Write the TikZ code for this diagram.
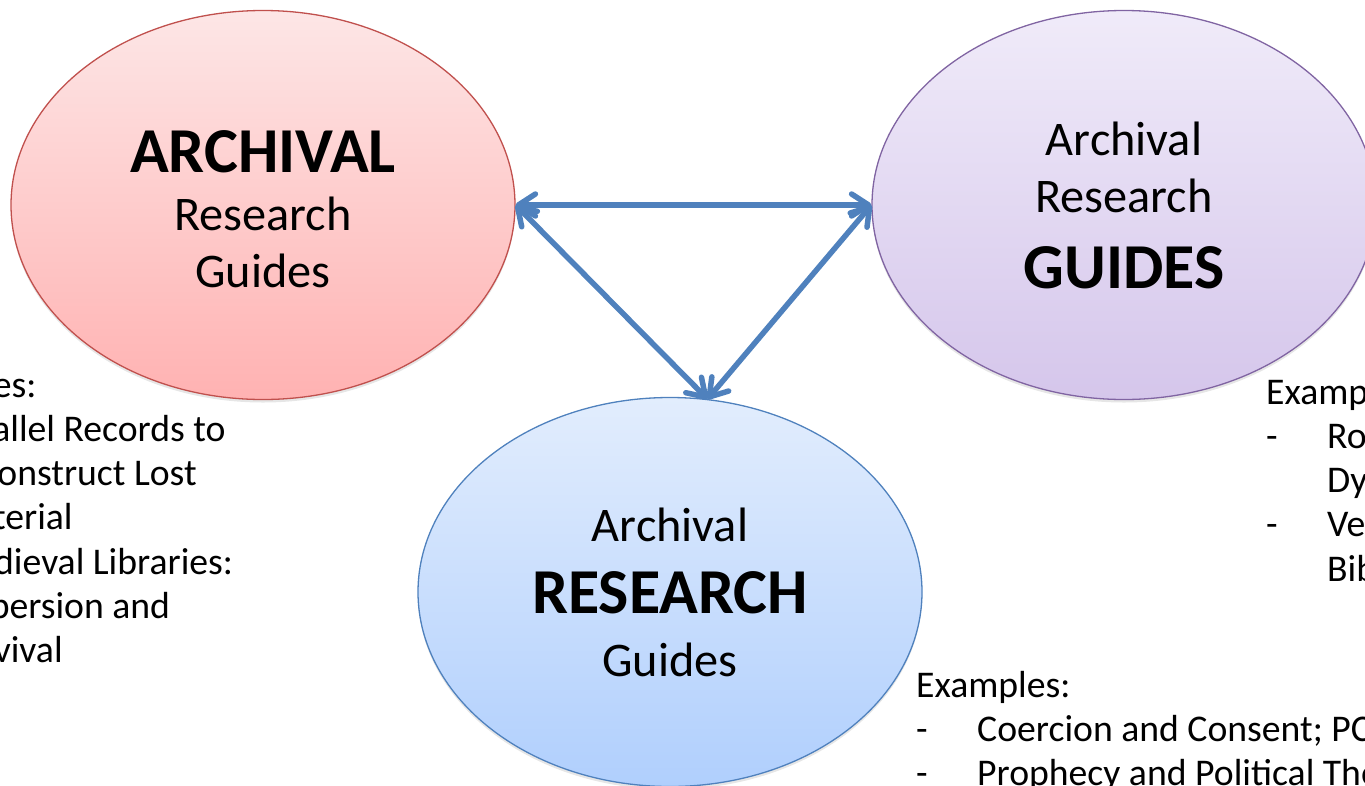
\documentclass[tikz,border=0pt]{standalone}
\usepackage{fontspec}
\setmainfont{Carlito}
\usepackage{tikz}
\usetikzlibrary{shapes.geometric,arrows.meta,shadows}
\definecolor{redline}{RGB}{192,80,77}
\definecolor{redtop}{RGB}{253,230,230}
\definecolor{redbot}{RGB}{255,178,178}
\definecolor{violetline}{RGB}{128,100,162}
\definecolor{violettop}{RGB}{240,235,249}
\definecolor{violetbot}{RGB}{213,198,235}
\definecolor{blueline}{RGB}{79,129,189}
\definecolor{bluetop}{RGB}{226,237,253}
\definecolor{bluebot}{RGB}{176,207,253}
\newcommand{\bigword}[1]{{\fontsize{64}{57.5}\selectfont\bfseries #1}}

\begin{document}
\begin{tikzpicture}[
    x=1pt, y=-1pt,
    guide/.style={ellipse, draw, line width=1.3pt, minimum width=504pt, minimum height=389pt, inner sep=0pt, align=center,
      drop shadow={shadow xshift=0pt, shadow yshift=-3pt, opacity=0.2}, font=\fontsize{48.3}{57.5}\selectfont},
    link/.style={{Straight Barb[round, length=17pt, width=22pt]}-{Straight Barb[round, length=17pt, width=22pt]}, line width=5.5pt, color=blueline, line cap=round},
    examples/.style={anchor=base west, inner sep=0pt, font=\fontsize{37.7}{44.3}\selectfont}
]
\useasboundingbox (0,0) rectangle (1365,785);
\clip (0,0) rectangle (1365,785);

% The three guides
\node[guide, draw=redline, top color=redtop, bottom color=redbot] (archival) at (263,205) {\bigword{\rule{0pt}{51pt}ARCHIVAL}\\Research\\Guides};
\node[guide, draw=violetline, top color=violettop, bottom color=violetbot] (guides) at (1124,205) {Archival\\Research\\[18pt]\bigword{GUIDES}};
\node[guide, draw=blueline, top color=bluetop, bottom color=bluebot] (research) at (670,592) {Archival\\[15pt]\bigword{RESEARCH}\\[5pt]Guides};

% Arrows
\draw[link] (archival.east) -- (guides.west);
\draw[link] (archival.east) -- (research.79);
\draw[link] (guides.west) -- (research.79);

% Examples
\node[examples] (archex) at (-118,397) {\begin{tabular}[t]{@{}p{61pt}@{}l@{}}
  \multicolumn{2}{@{}l@{}}{Examples:}\\
  - & Parallel Records to\\
    & Reconstruct Lost\\
    & Material\\
  - & Medieval Libraries:\\
    & Dispersion and\\
    & Survival
\end{tabular}};
\node[examples] (guideex) at (1266,404) {\begin{tabular}[t]{@{}p{61pt}@{}l@{}}
  \multicolumn{2}{@{}l@{}}{Examples:}\\
  - & Royal and Noble\\
    & Dynasties\\
  - & Vernacular\\
    & Bibles
\end{tabular}};
\node[examples] (resex) at (916,697) {\begin{tabular}[t]{@{}p{61pt}@{}l@{}}
  \multicolumn{2}{@{}l@{}}{Examples:}\\
  - & Coercion and Consent; PCC\\
  - & Prophecy and Political Thought
\end{tabular}};
\end{tikzpicture}
\end{document}
